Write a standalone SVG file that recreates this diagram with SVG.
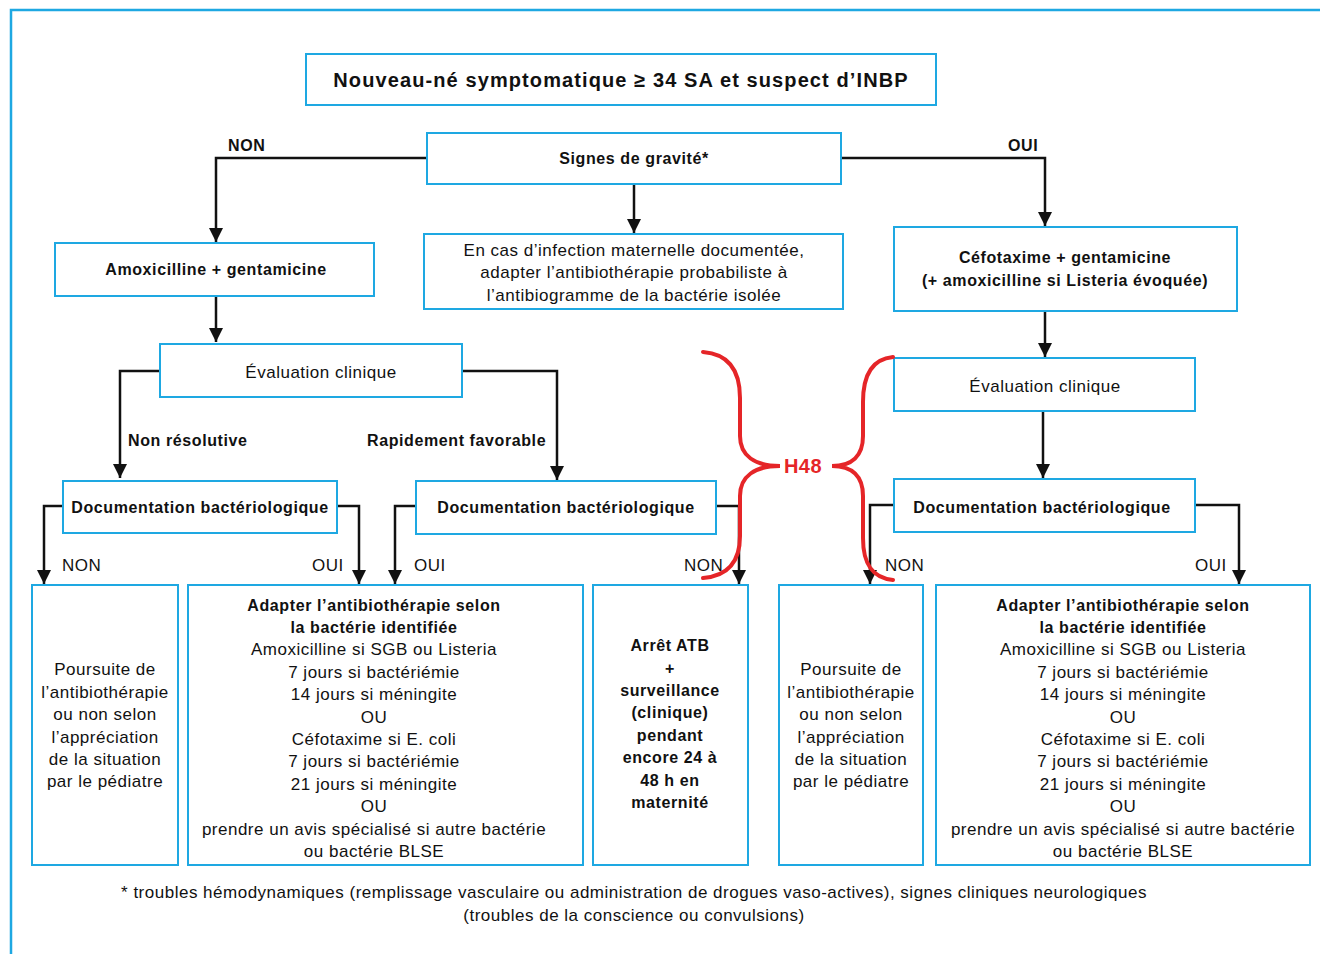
<svg xmlns="http://www.w3.org/2000/svg" width="1320" height="954" viewBox="0 0 1320 954">
<defs>
<marker id="ah" markerUnits="userSpaceOnUse" markerWidth="14" markerHeight="14" viewBox="0 0 14 14" refX="14" refY="7" orient="auto">
<path d="M0,0 L14,7 L0,14 z" fill="#111"/>
</marker>
<style>
.box{fill:#fff;stroke:#1ea8e2;stroke-width:2}
.c{fill:none;stroke:#111;stroke-width:2.5;marker-end:url(#ah)}
.t{font-family:"Liberation Sans",Arial,sans-serif;font-size:17px;letter-spacing:0.5px;fill:#111;text-anchor:middle;dominant-baseline:central}
.l{font-family:"Liberation Sans",Arial,sans-serif;font-size:17px;letter-spacing:0.5px;fill:#111;dominant-baseline:central}
.b{font-weight:bold;font-size:16px;letter-spacing:0.6px}
.brace{fill:none;stroke:#e52528;stroke-width:4;stroke-linecap:round}
</style>
</defs>
<rect width="1320" height="954" fill="#fff"/>
<path d="M11,960 L11,10 L1330,10" fill="none" stroke="#1ea8e2" stroke-width="2.5"/>

<g id="connectors">
<path class="c" d="M427,158 H216 V242"/>
<path class="c" d="M841,158 H1045 V226"/>
<path class="c" d="M634,184 V233"/>
<path class="c" d="M216,296 V342"/>
<path class="c" d="M160,371 H120 V478"/>
<path class="c" d="M462,371 H557 V480"/>
<path class="c" d="M1045,311 V357"/>
<path class="c" d="M1043,411 V478"/>
<path class="c" d="M63,506 H44 V584"/>
<path class="c" d="M337,506 H359 V584"/>
<path class="c" d="M416,506 H395 V584"/>
<path class="c" d="M716,506 H739 V584"/>
<path class="c" d="M894,505 H870 V584"/>
<path class="c" d="M1195,505 H1239 V584"/>
<text class="l b" x="228" y="145">NON</text>
<text class="l b" x="1008" y="145">OUI</text>
<text class="l b" x="128" y="440">Non résolutive</text>
<text class="l b" x="367" y="440">Rapidement favorable</text>
<text class="l" x="62" y="565">NON</text>
<text class="l" x="312" y="565">OUI</text>
<text class="l" x="414" y="565">OUI</text>
<text class="l" x="684" y="565">NON</text>
<text class="l" x="885" y="565">NON</text>
<text class="l" x="1195" y="565">OUI</text>
</g>

<g id="title">
<rect class="box" x="306" y="54" width="630" height="51"/>
<text class="t b" x="621" y="80" style="font-size:20px;letter-spacing:1.1px">Nouveau-né symptomatique ≥ 34 SA et suspect d’INBP</text>
</g>
<g id="gravite">
<rect class="box" x="427" y="133" width="414" height="51"/>
<text class="t b" x="634" y="158">Signes de gravité*</text>
</g>
<g id="maternelle">
<rect class="box" x="424" y="234" width="419" height="75"/>
<text class="t" x="634" y="250">En cas d’infection maternelle documentée,</text>
<text class="t" x="634" y="272">adapter l’antibiothérapie probabiliste à</text>
<text class="t" x="634" y="295">l’antibiogramme de la bactérie isolée</text>
</g>
<g id="amox">
<rect class="box" x="55" y="243" width="319" height="53"/>
<text class="t b" x="216" y="269">Amoxicilline + gentamicine</text>
</g>
<g id="cefo">
<rect class="box" x="894" y="227" width="343" height="84"/>
<text class="t b" x="1065" y="257">Céfotaxime + gentamicine</text>
<text class="t b" x="1065" y="280">(+ amoxicilline si Listeria évoquée)</text>
</g>
<g id="eval-left">
<rect class="box" x="160" y="344" width="302" height="53"/>
<text class="t" x="321" y="372">Évaluation clinique</text>
</g>
<g id="eval-right">
<rect class="box" x="894" y="358" width="301" height="53"/>
<text class="t" x="1045" y="386">Évaluation clinique</text>
</g>
<g id="doc1">
<rect class="box" x="63" y="481" width="274" height="52"/>
<text class="t b" x="200" y="507">Documentation bactériologique</text>
</g>
<g id="doc2">
<rect class="box" x="416" y="481" width="300" height="53"/>
<text class="t b" x="566" y="507">Documentation bactériologique</text>
</g>
<g id="doc3">
<rect class="box" x="894" y="479" width="301" height="53"/>
<text class="t b" x="1042" y="507">Documentation bactériologique</text>
</g>

<g id="b1">
<rect class="box" x="32" y="585" width="146" height="280"/>
<text class="t" x="105" y="669">Poursuite de</text>
<text class="t" x="105" y="692">l’antibiothérapie</text>
<text class="t" x="105" y="714">ou non selon</text>
<text class="t" x="105" y="737">l’appréciation</text>
<text class="t" x="105" y="759">de la situation</text>
<text class="t" x="105" y="781">par le pédiatre</text>
</g>
<g id="b2">
<rect class="box" x="188" y="585" width="395" height="280"/>
<text class="t b" x="374" y="605">Adapter l’antibiothérapie selon</text>
<text class="t b" x="374" y="627">la bactérie identifiée</text>
<text class="t" x="374" y="649">Amoxicilline si SGB ou Listeria</text>
<text class="t" x="374" y="672">7 jours si bactériémie</text>
<text class="t" x="374" y="694">14 jours si méningite</text>
<text class="t" x="374" y="717">OU</text>
<text class="t" x="374" y="739">Céfotaxime si E. coli</text>
<text class="t" x="374" y="761">7 jours si bactériémie</text>
<text class="t" x="374" y="784">21 jours si méningite</text>
<text class="t" x="374" y="806">OU</text>
<text class="t" x="374" y="829">prendre un avis spécialisé si autre bactérie</text>
<text class="t" x="374" y="851">ou bactérie BLSE</text>
</g>
<g id="b3">
<rect class="box" x="593" y="585" width="155" height="280"/>
<text class="t b" x="670" y="645">Arrêt ATB</text>
<text class="t b" x="670" y="668">+</text>
<text class="t b" x="670" y="690">surveillance</text>
<text class="t b" x="670" y="712">(clinique)</text>
<text class="t b" x="670" y="735">pendant</text>
<text class="t b" x="670" y="757">encore 24 à</text>
<text class="t b" x="670" y="780">48 h en</text>
<text class="t b" x="670" y="802">maternité</text>
</g>
<g id="b4">
<rect class="box" x="779" y="585" width="144" height="280"/>
<text class="t" x="851" y="669">Poursuite de</text>
<text class="t" x="851" y="692">l’antibiothérapie</text>
<text class="t" x="851" y="714">ou non selon</text>
<text class="t" x="851" y="737">l’appréciation</text>
<text class="t" x="851" y="759">de la situation</text>
<text class="t" x="851" y="781">par le pédiatre</text>
</g>
<g id="b5">
<rect class="box" x="936" y="585" width="374" height="280"/>
<text class="t b" x="1123" y="605">Adapter l’antibiothérapie selon</text>
<text class="t b" x="1123" y="627">la bactérie identifiée</text>
<text class="t" x="1123" y="649">Amoxicilline si SGB ou Listeria</text>
<text class="t" x="1123" y="672">7 jours si bactériémie</text>
<text class="t" x="1123" y="694">14 jours si méningite</text>
<text class="t" x="1123" y="717">OU</text>
<text class="t" x="1123" y="739">Céfotaxime si E. coli</text>
<text class="t" x="1123" y="761">7 jours si bactériémie</text>
<text class="t" x="1123" y="784">21 jours si méningite</text>
<text class="t" x="1123" y="806">OU</text>
<text class="t" x="1123" y="829">prendre un avis spécialisé si autre bactérie</text>
<text class="t" x="1123" y="851">ou bactérie BLSE</text>
</g>

<g id="h48">
<path class="brace" d="M703,352 C730,354 740,372 740,398 L740,436 C740,456 755,466 780,466 C755,466 740,476 740,496 L740,536 C740,562 728,576 703,578"/>
<path class="brace" d="M893,357 C872,359 863,376 863,402 L863,436 C863,456 852,466 832,466 C852,466 863,476 863,496 L863,538 C863,564 872,578 893,580"/>
<text class="t b" x="803" y="466" style="font-size:20px;letter-spacing:0.5px;fill:#e52528">H48</text>
</g>

<g id="footnote">
<text class="t" x="634" y="892">* troubles hémodynamiques (remplissage vasculaire ou administration de drogues vaso-actives), signes cliniques neurologiques</text>
<text class="t" x="634" y="915">(troubles de la conscience ou convulsions)</text>
</g>
</svg>
